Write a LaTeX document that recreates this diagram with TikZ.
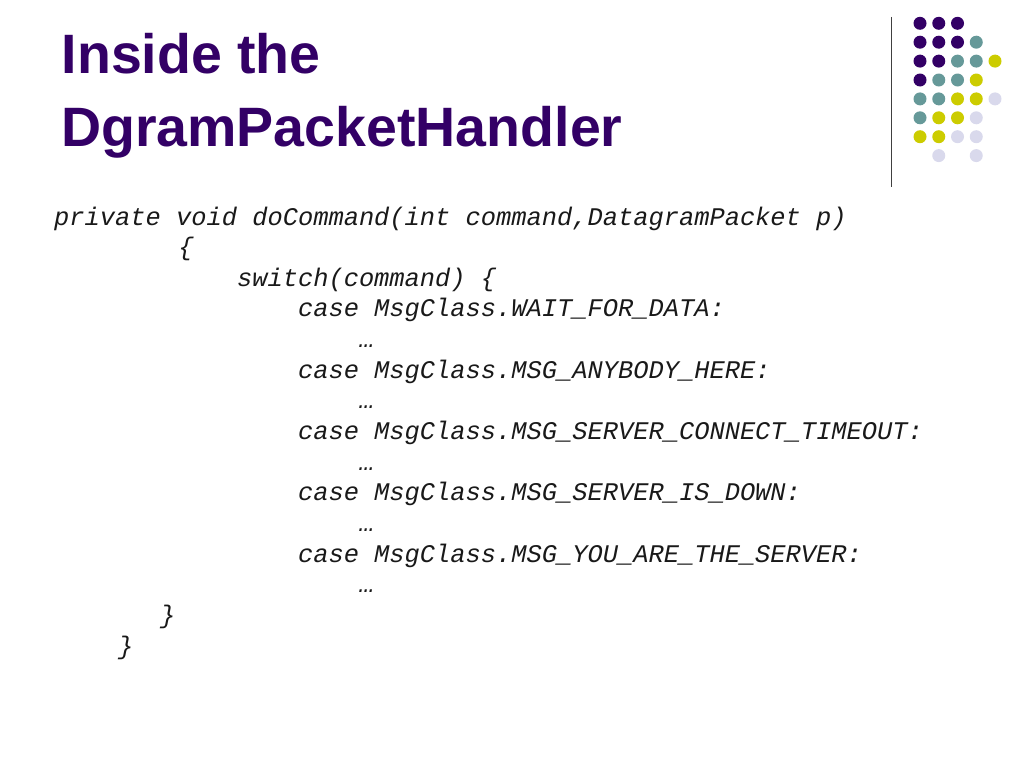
\documentclass[tikz,border=0pt]{standalone}
\usepackage{fontspec}
\usepackage{tikz}
\newfontfamily\titlefont{Liberation Sans}
\newfontfamily\codefont{Liberation Mono}
\definecolor{slidepurple}{HTML}{330066}
\definecolor{slideteal}{HTML}{669999}
\definecolor{slideyellow}{HTML}{CCCC00}
\definecolor{slidelilac}{HTML}{D9D9EC}

\begin{document}
\begin{tikzpicture}[x=1pt, y=-1pt,
		heading/.style={anchor=base west, inner sep=0pt, text=slidepurple,
			font=\titlefont\bfseries\fontsize{55.5}{72}\selectfont},
		code/.style={anchor=base west, inner sep=0pt, text=black!90,
			font=\codefont\itshape\fontsize{25.4}{30.65}\selectfont},
		dot/.style={radius=6.5}]
	\useasboundingbox (0,0) rectangle (1024,768);
	% title
	\node[heading] (title1) at (61.5,74) {Inside the};
	\node[heading] (title2) at (61,146) {DgramPacketHandler};
	% corner rule and dots
	\draw[black!75, line width=1.5pt] (891.7,17) -- (891.7,187);
	\foreach \c/\r/\col in {0/0/slidepurple, 1/0/slidepurple, 2/0/slidepurple,
			0/1/slidepurple, 1/1/slidepurple, 2/1/slidepurple, 3/1/slideteal,
			0/2/slidepurple, 1/2/slidepurple, 2/2/slideteal, 3/2/slideteal, 4/2/slideyellow,
			0/3/slidepurple, 1/3/slideteal, 2/3/slideteal, 3/3/slideyellow,
			0/4/slideteal, 1/4/slideteal, 2/4/slideyellow, 3/4/slideyellow, 4/4/slidelilac,
			0/5/slideteal, 1/5/slideyellow, 2/5/slideyellow, 3/5/slidelilac,
			0/6/slideyellow, 1/6/slideyellow, 2/6/slidelilac, 3/6/slidelilac,
			1/7/slidelilac, 3/7/slidelilac}
		\fill[\col] (920+\c*18.75, 23.3+\r*18.9) circle[dot];
	% code listing
	\foreach \ind/\txt [count=\i] in {
			0/{private void doCommand(int command,DatagramPacket p)},
			8.15/{\{},
			12/{switch(command) \{},
			16/{case MsgClass.WAIT\_FOR\_DATA:},
			20/{…},
			16/{case MsgClass.MSG\_ANYBODY\_HERE:},
			20/{…},
			16/{case MsgClass.MSG\_SERVER\_CONNECT\_TIMEOUT:},
			20/{…},
			16/{case MsgClass.MSG\_SERVER\_IS\_DOWN:},
			20/{…},
			16/{case MsgClass.MSG\_YOU\_ARE\_THE\_SERVER:},
			20/{…},
			6.95/{\}},
			4.2/{\}}}
		\node[code] (line\i) at (54+\ind*15.24, 225+\i*30.65-30.65) {\txt};
\end{tikzpicture}
\end{document}
